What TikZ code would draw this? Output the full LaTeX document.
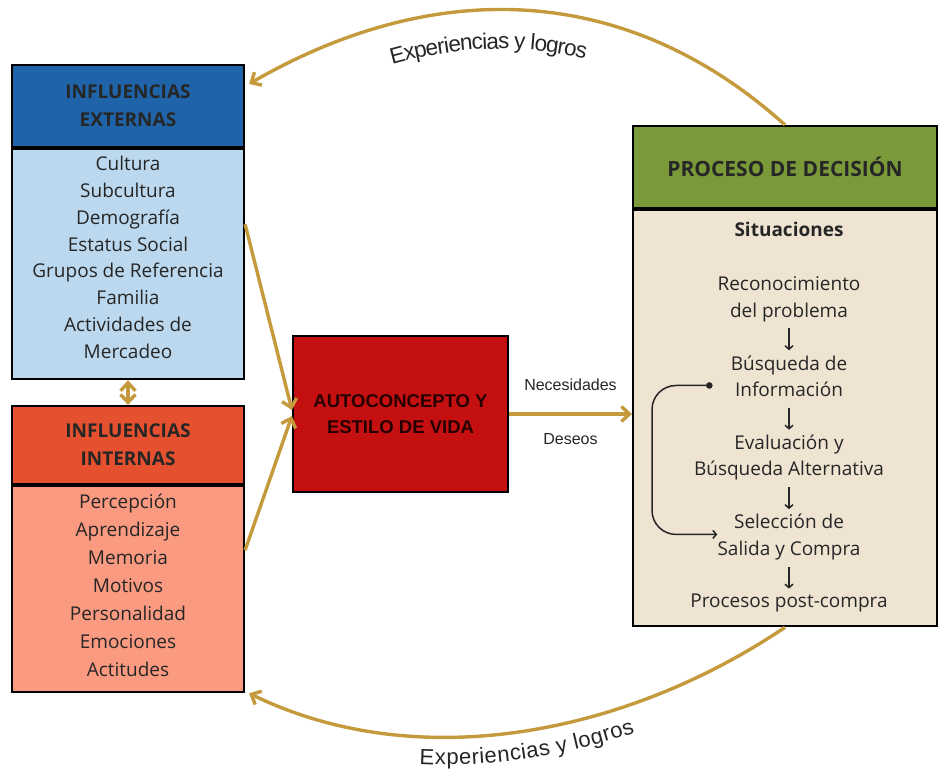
\documentclass[tikz,border=0pt]{standalone}
\usepackage{fontspec}
\setmainfont{Open Sans}
\newfontfamily\arialfont{Liberation Sans}
\usepackage{xcolor}
\usetikzlibrary{arrows.meta, positioning, decorations.text}

\definecolor{extdark}{HTML}{1F63A8}
\definecolor{extlight}{HTML}{BBD8EE}
\definecolor{intdark}{HTML}{E5502F}
\definecolor{intlight}{HTML}{FA9A80}
\definecolor{selfred}{HTML}{C41010}
\definecolor{procgreen}{HTML}{7A9A3A}
\definecolor{procbeige}{HTML}{EFE4D2}
\definecolor{flowgold}{HTML}{C49A3C}
\definecolor{inktext}{HTML}{262626}

\begin{document}
\begin{tikzpicture}[
    x=1pt, y=-1pt,
    node distance=33pt,
    head/.style={rectangle, draw=black, line width=2.2pt, minimum width=232pt, inner sep=0pt, align=center, font=\fontsize{19}{28}\selectfont\bfseries, text=inktext},
    body/.style={rectangle, draw=black, line width=2.2pt, minimum width=232pt, inner sep=0pt, align=center, font=\fontsize{19}{26.8}\selectfont, text=inktext},
    stage/.style={inner sep=0pt, align=center, text depth=5pt, font=\fontsize{19}{26.5}\selectfont, text=inktext},
    flow/.style={-{Straight Barb[length=8pt, width=15pt]}, line width=3.4pt, draw=flowgold},
    stagearrow/.style={-{Straight Barb[length=3.5pt, width=8pt]}, line width=1.5pt, draw=inktext, shorten <=6pt, shorten >=5pt},
    looparrow/.style={{Circle[length=6.5pt]}-{Straight Barb[length=3.5pt, width=8pt]}, line width=1.5pt, draw=inktext, rounded corners=24pt},
    flowlabel/.style={inner sep=0pt, font=\arialfont\fontsize{16}{18}\selectfont, text=inktext}
]
\useasboundingbox (0,0) rectangle (938,774);

% Influencias externas
\node[head, fill=extdark, minimum height=82pt] (exthead) at (128,106) {INFLUENCIAS\\EXTERNAS};
\node[body, fill=extlight, minimum height=230pt, text depth=14pt, below=0pt of exthead] (extbody) {Cultura\\Subcultura\\Demografía\\Estatus Social\\Grupos de Referencia\\Familia\\Actividades de\\Mercadeo};

% Influencias internas
\node[head, fill=intdark, minimum height=78pt] (inthead) at (128,445) {INFLUENCIAS\\INTERNAS};
\node[body, fill=intlight, minimum height=206pt, text depth=8pt, below=0pt of inthead, font=\fontsize{19}{28}\selectfont] (intbody) {Percepción\\Aprendizaje\\Memoria\\Motivos\\Personalidad\\Emociones\\Actitudes};

% Autoconcepto
\node[rectangle, draw=black, line width=2.2pt, fill=selfred, minimum width=215pt, minimum height=156pt, align=center, font=\arialfont\bfseries\fontsize{18.5}{26}\selectfont, text=black!85!red] (self) at (400.5,414) {AUTOCONCEPTO Y\\ESTILO DE VIDA};

% Proceso de decision
\node[head, fill=procgreen, minimum width=304pt, minimum height=82pt, font=\fontsize{21}{24}\selectfont\bfseries] (prochead) at (785,167) {PROCESO DE DECISIÓN};
\node[body, fill=procbeige, minimum width=304pt, minimum height=416pt, below=0pt of prochead] (procbody) {};

\node[stage, text depth=0pt, font=\fontsize{19}{24}\selectfont\bfseries] (situ) at (789,229) {Situaciones};
\node[stage, below=40pt of situ] (recog) {Reconocimiento\\del problema};
\node[stage, below=of recog] (search) {Búsqueda de\\Información};
\node[stage, below=of search] (evalu) {Evaluación y\\Búsqueda Alternativa};
\node[stage, below=of evalu] (choice) {Selección de\\Salida y Compra};
\node[stage, below=of choice] (post) {Procesos post-compra};

\draw[stagearrow] (recog) -- (search);
\draw[stagearrow] (search) -- (evalu);
\draw[stagearrow] (evalu) -- (choice);
\draw[stagearrow] (choice) -- (post);

% Vuelta de seleccion a busqueda
\coordinate (loopx) at (652,450);
\coordinate (loopin) at ([xshift=-18pt, yshift=-7pt]search.west);
\coordinate (loopout) at ([yshift=3pt]choice.west);
\draw[looparrow] (loopin) -- (loopin -| loopx) -- (loopout -| loopx) -- (loopout);

% Flechas principales
\draw[flow] ([yshift=40pt]extbody.east) -- ([yshift=4pt]self.west);
\draw[flow] ([yshift=39pt]intbody.east) -- ([yshift=-2pt]self.west);
\draw[flow, {Straight Barb[length=8pt, width=15pt]}-{Straight Barb[length=8pt, width=15pt]}] (extbody.south) -- (inthead.north);
\draw[flow] (self.east) -- (self.east -| procbody.west)
    node[flowlabel, midway, above=22pt] (needs) {Necesidades}
    node[flowlabel, midway, below=18pt] (wants) {Deseos};

% Experiencias y logros
\draw[flow, {Straight Barb[length=8pt, width=15pt]}-,
    postaction={decorate, decoration={text along path, text align={center, right indent=75pt}, raise=-39pt,
        text={|\arialfont\fontsize{22.5}{24}\selectfont\color{inktext}|Experiencias y logros}}}]
    ([xshift=4pt, yshift=-20pt]exthead.north east) to[out=30, in=138, looseness=1.02] (prochead.north);
\draw[flow, {Straight Barb[length=8pt, width=15pt]}-,
    postaction={decorate, decoration={text along path, text align=center, raise=-28pt,
        text={|\arialfont\fontsize{22}{24}\selectfont\color{inktext}|Experiencias y logros}}}]
    ([xshift=4pt]intbody.south east) to[out=-26, in=-146, looseness=0.9] (procbody.south);

\end{tikzpicture}
\end{document}
